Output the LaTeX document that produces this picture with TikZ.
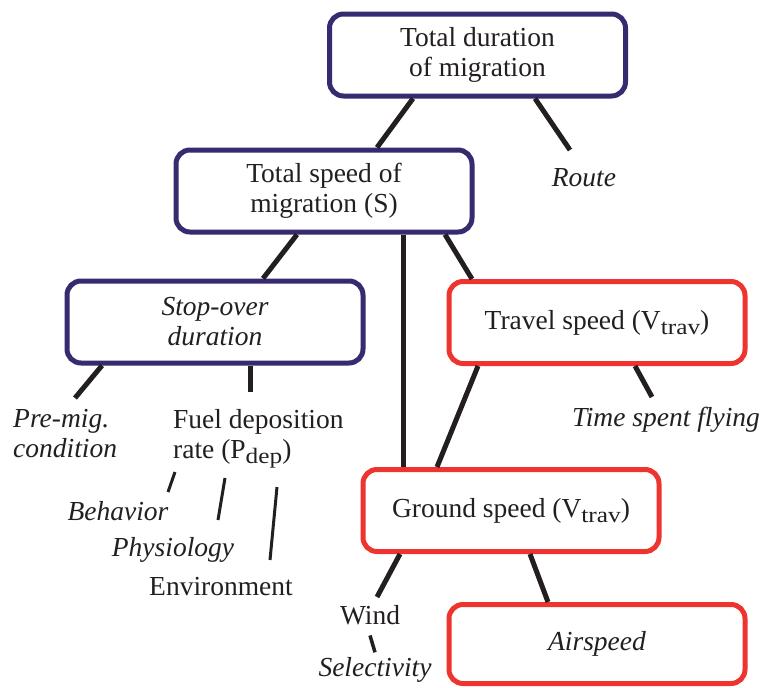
\documentclass[tikz,border=0pt]{standalone}
\usepackage{fontspec}
\setmainfont{Liberation Serif}
\definecolor{navy}{RGB}{55,42,110}
\definecolor{boxred}{RGB}{238,52,46}
\definecolor{ink}{RGB}{35,31,32}
\newcommand{\lowsub}[1]{\raisebox{-5pt}{\scalebox{1.15}[1]{\fontsize{22}{22}\selectfont #1}}}
\begin{document}
\begin{tikzpicture}[x=1pt, y=-1pt, text=ink,
  font=\fontsize{27.5}{30}\selectfont,
  box/.style={draw, line width=5pt, rounded corners=14pt, fill=white,
    minimum width=296pt, minimum height=82pt, align=center, inner sep=0pt},
  bluebox/.style={box, draw=navy},
  redbox/.style={box, draw=boxred},
  link/.style={draw=ink, line width=5pt},
  twig/.style={draw=ink, line width=3pt},
  lbl/.style={inner sep=0pt, font=\fontsize{27.5}{30}\selectfont\itshape}]
\useasboundingbox (0,0) rectangle (763,688);
% boxes
\node[bluebox] (tot) at (477.5,55) {Total duration\\of migration};
\node[bluebox] (spd) at (324,191) {Total speed of\\migration (S)};
\node[bluebox, font=\fontsize{27.5}{30}\selectfont\itshape] (stop) at (215,322) {Stop-over\\duration};
\node[redbox] (trav) at (597,322.5) {Travel speed (V\lowsub{trav})};
\node[redbox] (gnd) at (511,510.5) {Ground speed (V\lowsub{trav})};
\node[redbox, minimum height=79pt, font=\fontsize{27.5}{30}\selectfont\itshape] (air) at (597,644) {Airspeed};
% labels
\node[lbl] (route) at (584,178) {Route};
\node[lbl] (fly) at (666,420) {Time spent flying};
\node[lbl, align=left, anchor=west] (premig) at (13,434) {Pre-mig.\\condition};
\node[inner sep=0pt, align=left, anchor=west] (fuel) at (173,439) {Fuel deposition\\rate (P\lowsub{dep})};
\node[lbl] (behav) at (118,511) {Behavior};
\node[lbl] (phys) at (173,550) {Physiology};
\node[inner sep=0pt] (env) at (221,587) {Environment};
\node[inner sep=0pt] (wind) at (370,615.5) {Wind};
\node[lbl] (sel) at (375,670) {Selectivity};
% free ends
\coordinate (routeTop) at (570,150);
\coordinate (flyTop) at (652,397);
\coordinate (premigTop) at (75,398);
\coordinate (fuelTop) at (250,392);
\coordinate (windTop) at (377,597);
\coordinate (vtop) at ([xshift=79pt]spd.south);
% tree links
\draw[link] ([xshift=-64.5pt]tot.south) -- ([xshift=53pt]spd.north);
\draw[link] ([xshift=57.5pt]tot.south) -- (routeTop);
\draw[link] ([xshift=-27pt]spd.south) -- ([xshift=48pt]stop.north);
\draw[link] (vtop) -- (vtop |- gnd.north);
\draw[link] ([xshift=121pt]spd.south) -- ([xshift=-125pt]trav.north);
\draw[link] ([xshift=-119pt]trav.south) -- ([xshift=-74pt]gnd.north);
\draw[link] ([xshift=38pt]trav.south) -- (flyTop);
\draw[link] ([xshift=-113pt]stop.south) -- (premigTop);
\draw[link] ([xshift=35pt]stop.south) -- (fuelTop);
\draw[link] ([xshift=-111pt]gnd.south) -- (windTop);
\draw[link] ([xshift=19pt]gnd.south) -- ([xshift=-49pt]air.north);
\draw[twig, line width=3.5pt] ([yshift=-10pt]wind.south) -- ([yshift=5pt]sel.north);
% fuel deposition factors
\coordinate (behA) at (175,472); \coordinate (behB) at (168,492);
\coordinate (phyA) at (225,478); \coordinate (phyB) at (218,520);
\coordinate (envA) at (277,487); \coordinate (envB) at (270,560);
\draw[twig] (behA) -- (behB);
\draw[twig] (phyA) -- (phyB);
\draw[twig] (envA) -- (envB);
\end{tikzpicture}
\end{document}
